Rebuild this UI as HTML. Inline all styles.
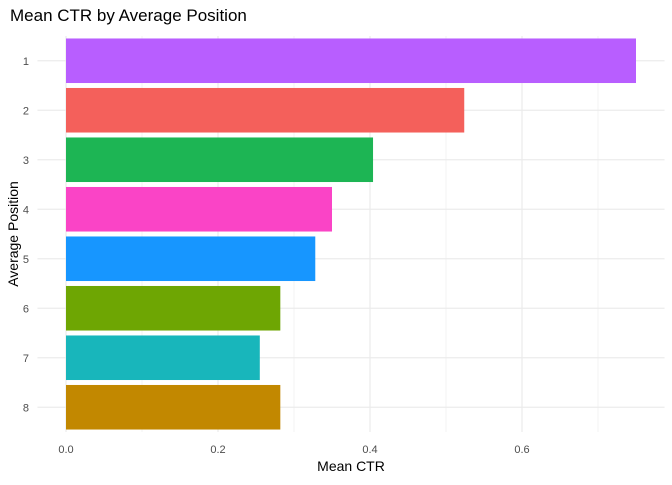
<!DOCTYPE html>
<html><head><meta charset="utf-8"><style>
body{margin:0;background:#fff;font-family:"Liberation Sans",sans-serif}
</style></head><body>
<svg id="chart" width="672" height="480" xmlns="http://www.w3.org/2000/svg" font-family="Liberation Sans, sans-serif">
<text x="10" y="21" font-size="17" fill="#000">Mean CTR by Average Position</text>
<g id="grid"></g><g id="bars"></g><g id="ticks"></g>
<text x="351" y="471" font-size="14" text-anchor="middle" fill="#000">Mean CTR</text>
<text transform="translate(18,234) rotate(-90)" font-size="14" text-anchor="middle" fill="#000">Average Position</text>
</svg>
<script>
const categories = ["1","2","3","4","5","6","7","8"];
const values = [0.75, 0.524, 0.404, 0.35, 0.328, 0.282, 0.255, 0.282];
const colors = ["#B85EFF","#F4605B","#1DB554","#FA44C6","#1796FF","#6EA603","#18B6BB","#C28800"];
const xTicks = [0, 0.2, 0.4, 0.6];
const xTickLabels = ["0.0","0.2","0.4","0.6"];
const NS="http://www.w3.org/2000/svg";
const x0=37.5,x1=664.5,xmin=-0.0375,xmax=0.7875;
const X=v=>x0+(v-xmin)/(xmax-xmin)*(x1-x0);
const yTop=36,yBottom=432,step=(yBottom-yTop)/categories.length;
const Y=i=>yTop+step*(i+0.5);
function mk(t,a,p){const e=document.createElementNS(NS,t);for(const k in a)e.setAttribute(k,a[k]);document.getElementById(p).appendChild(e);return e;}
for(let v=0;v<=0.75;v+=0.1){const l=mk('line',{x1:X(v),x2:X(v),y1:yTop,y2:yBottom,stroke:'#ebebeb','stroke-width':0.6},'grid');

}
xTicks.forEach((v,i)=>{const l=mk('line',{x1:X(v),x2:X(v),y1:yTop,y2:yBottom,stroke:'#ebebeb','stroke-width':1.2},'grid');


const t=mk('text',{x:X(v),y:453,'font-size':11,'text-anchor':'middle',fill:'#4d4d4d'},'ticks');t.textContent=xTickLabels[i];

});
categories.forEach((c,i)=>{const y=Y(i);
const g=mk('line',{x1:x0,x2:x1,y1:y,y2:y,stroke:'#ebebeb','stroke-width':1.2},'grid');


const r=mk('rect',{x:X(0),y:y-step*0.45,width:X(values[i])-X(0),height:step*0.9,fill:colors[i]},'bars');


const t=mk('text',{x:29,y:y+4,'font-size':11,'text-anchor':'end',fill:'#4d4d4d'},'ticks');t.textContent=c;

});
</script>
</body></html>
